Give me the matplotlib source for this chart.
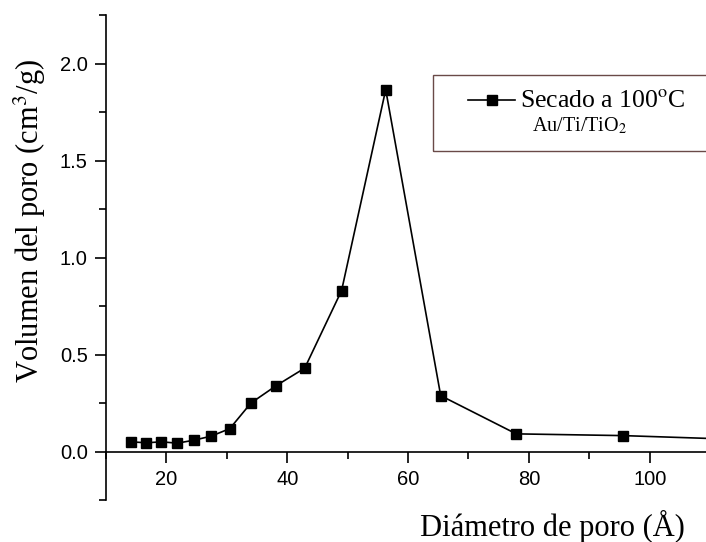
import matplotlib.pyplot as plt
from matplotlib.ticker import MultipleLocator
from matplotlib.patches import Rectangle

# pore size distribution, Au/Ti/TiO2 dried at 100 C
diametro = [14.1, 16.7, 19.2, 21.8, 24.5, 27.4, 30.5, 34.0, 38.2, 42.9, 49.0, 56.3, 65.4, 77.9, 95.6, 115.0]
volumen = [0.050, 0.045, 0.050, 0.043, 0.058, 0.079, 0.118, 0.250, 0.340, 0.430, 0.830, 1.866, 0.288, 0.091, 0.082, 0.062]

serif = ['Liberation Serif', 'DejaVu Serif']
sans = ['Liberation Sans', 'DejaVu Sans']

fig = plt.figure(figsize=(7.06, 5.42), dpi=100)
ax = fig.add_axes([0.150, 0.0775, 0.850, 0.8945])

ax.plot(diametro, volumen, '-', color='black', lw=1.2,
        marker='s', markersize=6.5, markerfacecolor='black', markeredgecolor='black')

ax.set_xlim(10, 109.3)
ax.set_ylim(-0.25, 2.25)

ax.spines['top'].set_visible(False)
ax.spines['right'].set_visible(False)
ax.spines['bottom'].set_position(('data', 0))
ax.spines['left'].set_linewidth(1.2)
ax.spines['bottom'].set_linewidth(1.2)

ax.xaxis.set_major_locator(MultipleLocator(20))
ax.xaxis.set_minor_locator(MultipleLocator(10))
ax.yaxis.set_major_locator(MultipleLocator(0.5))
ax.yaxis.set_minor_locator(MultipleLocator(0.25))
ax.yaxis.set_major_formatter(plt.FormatStrFormatter('%.1f'))
ax.tick_params(which='major', direction='out', length=8, width=1.2, labelsize=14.5, pad=5)
ax.tick_params(which='minor', direction='out', length=5, width=1.2)
for lab in ax.get_xticklabels() + ax.get_yticklabels():
    lab.set_family(sans)

fig.text(0.042, 0.592, 'Volumen del poro (cm$^3$/g)', rotation=90, ha='center', va='center',
         fontsize=22, family=serif, math_fontfamily='stix')
fig.text(0.782, 0.028, 'Diámetro de poro (Å)', ha='center', va='center',
         fontsize=22, family=serif)

# legend box
fig.patches.append(Rectangle((433 / 706, 1 - 151 / 542), 0.40, 76 / 542,
                             transform=fig.transFigure, fill=False,
                             edgecolor='#6a4a48', lw=1.0))
fig.lines.append(plt.Line2D([468 / 706, 491.5 / 706, 515 / 706], [1 - 100 / 542] * 3,
                            transform=fig.transFigure, color='black', lw=1.2,
                            marker='s', markersize=6.5, markevery=[1]))
fig.text(520 / 706, 1 - 101 / 542, 'Secado a 100$^{\\mathrm{o}}$C', ha='left', va='center',
         fontsize=18.5, family=serif, math_fontfamily='stix')
fig.text(580 / 706, 1 - 126 / 542, 'Au/Ti/TiO$_2$', ha='center', va='center',
         fontsize=14.5, family=serif, math_fontfamily='stix')

fig.savefig('out.png', dpi=100)
